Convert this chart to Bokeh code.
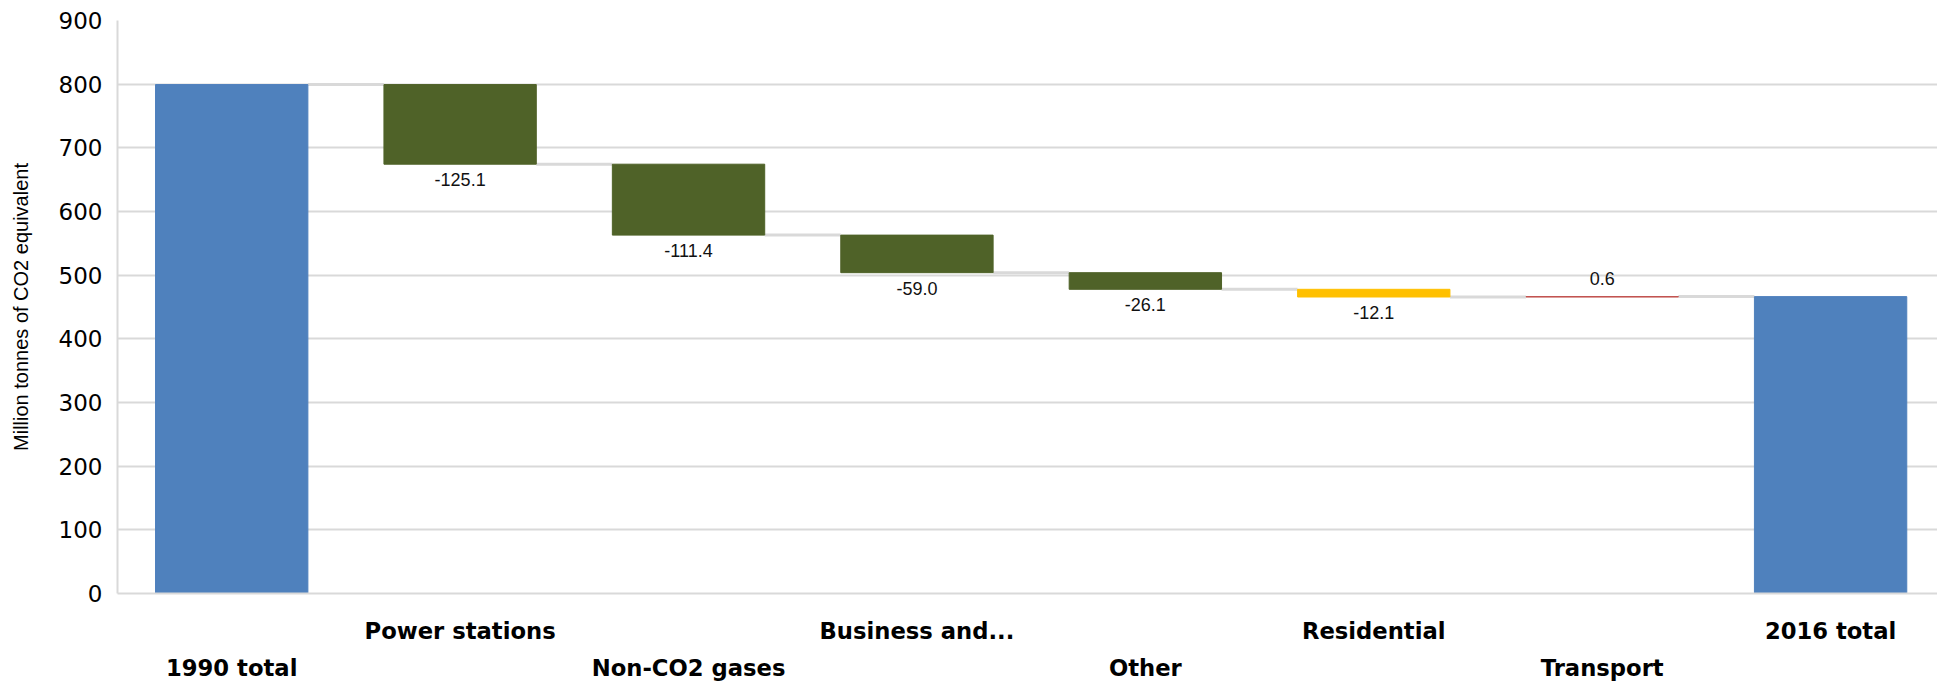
from bokeh.plotting import figure
from bokeh.models import Range1d, LinearAxis, FixedTicker, ColumnDataSource
from bokeh.embed import file_html
from bokeh.resources import INLINE
from bokeh.core.properties import value

# ---- data ----
categories = ["1990 total", "Power stations", "Non-CO2 gases", "Business and...",
              "Other", "Residential", "Transport", "2016 total"]
start_total = 799.4
changes = [-125.1, -111.4, -59.0, -26.1, -12.1, 0.6]
end_total = 466.3
y_ticks = [0, 100, 200, 300, 400, 500, 600, 700, 800, 900]
y_label = "Million tonnes of CO2 equivalent"

# ---- styles ----
total_color = "#4F81BD"
change_colors = ["#4F6228", "#4F6228", "#4F6228", "#4F6228", "#FFC000", "#C0504D"]
grid_color = "#D9D9D9"
bar_w = 0.667

# ---- waterfall geometry from data ----
xs = list(range(len(categories)))
bottoms, tops, levels = [0], [start_total], [start_total]
running = start_total
for c in changes:
    new = running + c
    bottoms.append(min(running, new))
    tops.append(max(running, new))
    running = new
    levels.append(running)
bottoms.append(0)
tops.append(end_total)
colors = [total_color] + change_colors + [total_color]

bars = ColumnDataSource(dict(x=xs, top=tops, bottom=bottoms, color=colors))

conn = ColumnDataSource(dict(
    x0=[i + bar_w / 2 for i in xs[:-1]],
    x1=[i + 1 - bar_w / 2 for i in xs[:-1]],
    y=levels,
))

neg_x, neg_y, neg_t, pos_x, pos_y, pos_t = [], [], [], [], [], []
for i, c in enumerate(changes, start=1):
    if c < 0:
        neg_x.append(i); neg_y.append(bottoms[i]); neg_t.append(f"{c:.1f}")
    else:
        pos_x.append(i); pos_y.append(tops[i]); pos_t.append(f"{c:.1f}")

p = figure(width=1937, height=686,
           x_range=Range1d(-0.5, 7.468), y_range=Range1d(0, 900),
           output_backend="svg", toolbar_location=None,
           min_border_left=117, min_border_top=20, min_border_bottom=93,
           min_border_right=0)
p.outline_line_color = None
p.background_fill_color = "white"
p.border_fill_color = "white"

# connectors
p.segment(x0="x0", x1="x1", y0="y", y1="y", source=conn,
          line_color=grid_color, line_width=3)

# bars
p.vbar(x="x", top="top", bottom="bottom", width=bar_w, source=bars,
       fill_color="color", line_color="color", line_width=1)

# value labels
p.text(x=neg_x, y=neg_y, text=neg_t, text_align="center", text_baseline="top",
       y_offset=9, text_font=value("Liberation Sans"), text_font_size="18px",
       text_color="#111111")
p.text(x=pos_x, y=pos_y, text=pos_t, text_align="center", text_baseline="bottom",
       y_offset=-12, text_font=value("Liberation Sans"), text_font_size="18px",
       text_color="#111111")

# grid
p.xgrid.grid_line_color = None
p.ygrid.grid_line_color = grid_color
p.ygrid.grid_line_width = 2
p.ygrid.ticker = FixedTicker(ticks=y_ticks)

# y axis
ya = p.yaxis[0]
ya.ticker = FixedTicker(ticks=y_ticks)
ya.major_tick_line_color = None
ya.minor_tick_line_color = None
ya.major_tick_out = 0
ya.major_tick_in = 0
ya.axis_line_color = grid_color
ya.axis_line_width = 2
ya.major_label_text_font = "DejaVu Sans"
ya.major_label_text_font_size = "23px"
ya.major_label_text_color = "#000000"
ya.major_label_standoff = 15
ya.axis_label = y_label
ya.axis_label_text_font = "Liberation Sans"
ya.axis_label_text_font_size = "20px"
ya.axis_label_text_font_style = "normal"
ya.axis_label_text_color = "#000000"
ya.axis_label_standoff = 24

# x axes: staggered category labels
odd = [i for i in xs if i % 2 == 1]
even = [i for i in xs if i % 2 == 0]

xa = p.xaxis[0]
xa.ticker = FixedTicker(ticks=odd)
xa.major_label_overrides = {i: categories[i] for i in odd}
xa.major_tick_line_color = None
xa.minor_tick_line_color = None
xa.major_tick_out = 0
xa.major_tick_in = 0
xa.axis_line_color = grid_color
xa.axis_line_width = 2
xa.major_label_text_font = "DejaVu Sans"
xa.major_label_text_font_style = "bold"
xa.major_label_text_font_size = "22.7px"
xa.major_label_text_color = "#000000"
xa.major_label_standoff = 24

xb = LinearAxis(ticker=FixedTicker(ticks=even),
                major_label_overrides={i: categories[i] for i in even})
xb.major_tick_line_color = None
xb.minor_tick_line_color = None
xb.major_tick_out = 0
xb.major_tick_in = 0
xb.axis_line_color = None
xb.major_label_text_font = "DejaVu Sans"
xb.major_label_text_font_style = "bold"
xb.major_label_text_font_size = "22.7px"
xb.major_label_text_color = "#000000"
xb.major_label_standoff = 8
p.add_layout(xb, "below")

open("out.html", "w").write(file_html(p, INLINE))
